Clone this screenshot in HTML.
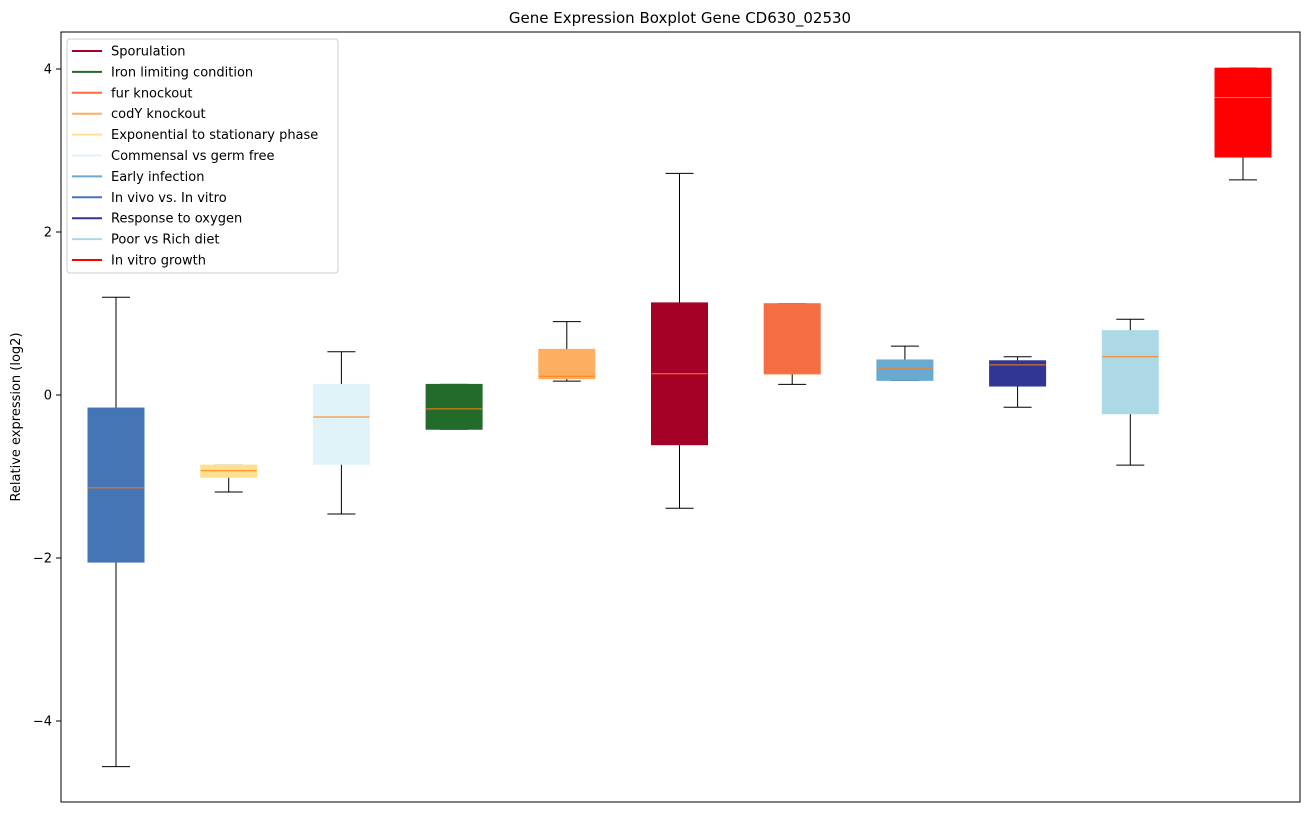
<!DOCTYPE html>
<html><head><meta charset="utf-8"><style>
body{margin:0;background:#fff;font-family:"Liberation Sans","DejaVu Sans",sans-serif;}
svg text{font-family:"DejaVu Sans","Liberation Sans",sans-serif;}
</style></head><body>
<svg id="chart" width="1309" height="812">
<rect x="0" y="0" width="1309" height="812" fill="#fff"/>
<text x="680" y="23" font-size="15" text-anchor="middle">Gene Expression Boxplot Gene CD630_02530</text>
<text transform="translate(20,417) rotate(-90)" font-size="13" text-anchor="middle">Relative expression (log2)</text>
<g id="marks"></g>
<g id="axis"></g>
<rect x="61" y="32" width="1239" height="770" fill="none" stroke="#000" stroke-width="1"/>
<g id="legend"></g>
</svg>
<script>
const categories=["In vivo vs. In vitro","Exponential to stationary phase","Commensal vs germ free","Iron limiting condition","codY knockout","Sporulation","fur knockout","Early infection","Response to oxygen","Poor vs Rich diet","In vitro growth"];
const colors=["#4575b4","#fee090","#e0f3f8","#236b2b","#fdae61","#a50026","#f46d43","#6aa9d0","#313695","#add8e6","#ff0000"];
const whiskerHigh=[1.20,-0.86,0.53,0.13,0.90,2.72,1.12,0.60,0.47,0.93,4.01];
const q3=[-0.16,-0.86,0.13,0.13,0.56,1.13,1.12,0.43,0.42,0.79,4.01];
const medians=[-1.14,-0.93,-0.27,-0.17,0.23,0.26,0.26,0.32,0.37,0.47,3.65];
const q1=[-2.05,-1.01,-0.85,-0.42,0.20,-0.61,0.26,0.18,0.11,-0.23,2.92];
const whiskerLow=[-4.56,-1.19,-1.46,-0.42,0.17,-1.39,0.13,0.18,-0.15,-0.86,2.64];
const yTicks=[-4,-2,0,2,4];
const legendLabels=["Sporulation","Iron limiting condition","fur knockout","codY knockout","Exponential to stationary phase","Commensal vs germ free","Early infection","In vivo vs. In vitro","Response to oxygen","Poor vs Rich diet","In vitro growth"];
const legendColors=["#a50026","#236b2b","#f46d43","#fdae61","#fee090","#e0f3f8","#6aa9d0","#4575b4","#313695","#add8e6","#ff0000"];

const NS="http://www.w3.org/2000/svg";
const y=v=>395-v*81.5;
const x=i=>116+i*112.7;
function mk(tag,attrs,parent){const e=document.createElementNS(NS,tag);for(const k in attrs)e.setAttribute(k,attrs[k]);parent.appendChild(e);return e;}
const marks=document.getElementById('marks');
categories.forEach((c,i)=>{
  const cx=x(i),bw=56,cw=28;
  const g=mk('g',{},marks);
  
  
  const l1=mk('line',{x1:cx,x2:cx,y1:y(whiskerHigh[i]),y2:y(q3[i]),stroke:'#000'},g);
  const l2=mk('line',{x1:cx,x2:cx,y1:y(q1[i]),y2:y(whiskerLow[i]),stroke:'#000'},g);
  const c1=mk('line',{x1:cx-cw/2,x2:cx+cw/2,y1:y(whiskerHigh[i]),y2:y(whiskerHigh[i]),stroke:'#000'},g);
  
  
  const c2=mk('line',{x1:cx-cw/2,x2:cx+cw/2,y1:y(whiskerLow[i]),y2:y(whiskerLow[i]),stroke:'#000'},g);
  
  
  const top=y(q3[i]),bot=y(q1[i]);
  const r=mk('rect',{x:cx-bw/2,y:top,width:bw,height:Math.max(bot-top,0.5),fill:colors[i],stroke:colors[i]},g);
  
  
  const m=mk('line',{x1:cx-bw/2,x2:cx+bw/2,y1:y(medians[i]),y2:y(medians[i]),stroke:'#ff7f0e','stroke-width':1},g);
  
  
});
const axis=document.getElementById('axis');
yTicks.forEach(t=>{
  const tl=mk('line',{x1:56,x2:61,y1:y(t),y2:y(t),stroke:'#000'},axis);
  
  
  const tx=mk('text',{x:52,y:y(t)+4.5,'font-size':13,'text-anchor':'end'},axis);
  tx.textContent=t<0?'\u2212'+Math.abs(t):String(t);
  
  
});
const lg=document.getElementById('legend');
const box=mk('rect',{x:67,y:39,width:271,height:234,rx:3,fill:'#fff','fill-opacity':0.85,stroke:'#ccc'},lg);


legendLabels.forEach((lab,i)=>{
  const yy=51+i*20.9;
  const g=mk('g',{},lg);
  
  
  mk('line',{x1:72,x2:102,y1:yy,y2:yy,stroke:legendColors[i],'stroke-width':2},g);
  const t=mk('text',{x:111,y:yy+4.5,'font-size':13},g);
  t.textContent=lab;
});
</script>
</body></html>
